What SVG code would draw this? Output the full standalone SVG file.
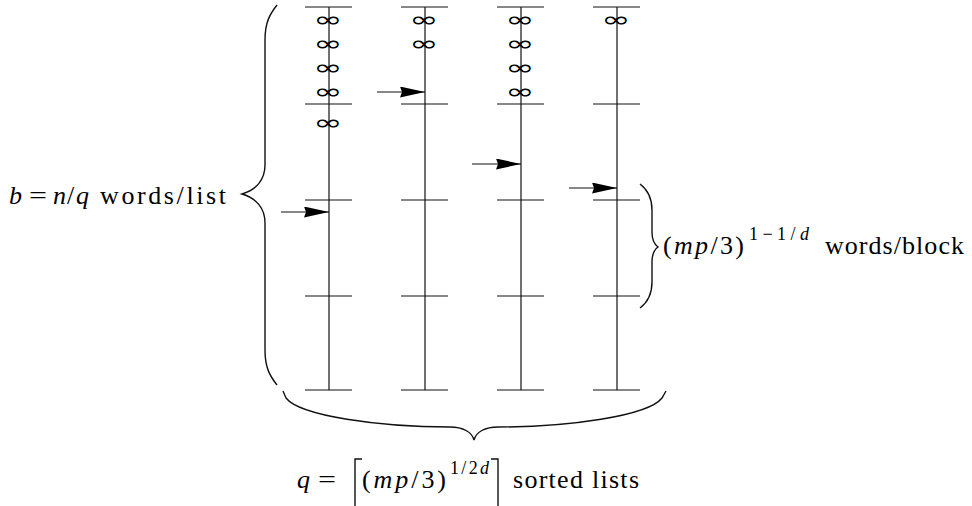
<svg xmlns="http://www.w3.org/2000/svg" width="972" height="506" viewBox="0 0 972 506">
<style>
.ln{stroke:#111;stroke-width:1.2;fill:none}
.br{stroke:#111;stroke-width:1.4;fill:none}
.t{font-family:"Liberation Serif","Times New Roman",serif;font-size:26px;fill:#000}
.i{font-style:italic}
.s{font-size:18px}
.inf{font-family:"DejaVu Sans","Liberation Serif",sans-serif;font-size:20px;text-anchor:middle;fill:#000}
.ah{fill:#000}
</style>
<defs>
<marker id="arr" markerWidth="25" markerHeight="11" refX="25" refY="5.5" orient="auto" markerUnits="userSpaceOnUse">
<path d="M0,0 L25,5.5 L0,11 L2,5.5 Z" class="ah"/>
</marker>
</defs>
<g id="list1">
<line class="ln" x1="329" y1="7" x2="329" y2="390"/>
<line class="ln" x1="305" y1="7" x2="352" y2="7"/>
<line class="ln" x1="305" y1="104" x2="352" y2="104"/>
<line class="ln" x1="305" y1="200" x2="352" y2="200"/>
<line class="ln" x1="305" y1="296" x2="352" y2="296"/>
<line class="ln" x1="305" y1="390" x2="352" y2="390"/>
<text class="inf" transform="translate(328,27) scale(1.75,1.1)">∞</text>
<text class="inf" transform="translate(328,51) scale(1.75,1.1)">∞</text>
<text class="inf" transform="translate(328,75) scale(1.75,1.1)">∞</text>
<text class="inf" transform="translate(328,99) scale(1.75,1.1)">∞</text>
<text class="inf" transform="translate(328,130) scale(1.75,1.1)">∞</text>
</g>
<g id="list2">
<line class="ln" x1="425" y1="7" x2="425" y2="390"/>
<line class="ln" x1="401" y1="7" x2="448" y2="7"/>
<line class="ln" x1="401" y1="104" x2="448" y2="104"/>
<line class="ln" x1="401" y1="200" x2="448" y2="200"/>
<line class="ln" x1="401" y1="296" x2="448" y2="296"/>
<line class="ln" x1="401" y1="390" x2="448" y2="390"/>
<text class="inf" transform="translate(424,27) scale(1.75,1.1)">∞</text>
<text class="inf" transform="translate(424,51) scale(1.75,1.1)">∞</text>
</g>
<g id="list3">
<line class="ln" x1="521" y1="7" x2="521" y2="390"/>
<line class="ln" x1="497" y1="7" x2="544" y2="7"/>
<line class="ln" x1="497" y1="104" x2="544" y2="104"/>
<line class="ln" x1="497" y1="200" x2="544" y2="200"/>
<line class="ln" x1="497" y1="296" x2="544" y2="296"/>
<line class="ln" x1="497" y1="390" x2="544" y2="390"/>
<text class="inf" transform="translate(520,27) scale(1.75,1.1)">∞</text>
<text class="inf" transform="translate(520,51) scale(1.75,1.1)">∞</text>
<text class="inf" transform="translate(520,75) scale(1.75,1.1)">∞</text>
<text class="inf" transform="translate(520,99) scale(1.75,1.1)">∞</text>
</g>
<g id="list4">
<line class="ln" x1="617" y1="7" x2="617" y2="390"/>
<line class="ln" x1="593" y1="7" x2="640" y2="7"/>
<line class="ln" x1="593" y1="104" x2="640" y2="104"/>
<line class="ln" x1="593" y1="200" x2="640" y2="200"/>
<line class="ln" x1="593" y1="296" x2="640" y2="296"/>
<line class="ln" x1="593" y1="390" x2="640" y2="390"/>
<text class="inf" transform="translate(616,27) scale(1.75,1.1)">∞</text>
</g>
<g id="connectors">
<line class="ln" x1="281" y1="212" x2="329" y2="212" marker-end="url(#arr)"/>
<line class="ln" x1="377" y1="92" x2="425" y2="92" marker-end="url(#arr)"/>
<line class="ln" x1="472" y1="164" x2="521" y2="164" marker-end="url(#arr)"/>
<line class="ln" x1="569" y1="188" x2="617" y2="188" marker-end="url(#arr)"/>
</g>
<g id="brace-left">
<path class="br" d="M277,5 C270,14 265,22 265,40 L265,165 C265,180 256,190 242,194 C256,198 265,208 265,223 L265,350 C265,368 270,376 277,385"/>
<text class="t i" x="9" y="204">b</text>
<text class="t" x="29" y="204" textLength="18" lengthAdjust="spacingAndGlyphs">=</text>
<text class="t" y="204"><tspan class="i" x="53">n</tspan><tspan x="67">/</tspan><tspan class="i" x="76">q</tspan></text>
<text class="t" x="100" y="204" textLength="126" lengthAdjust="spacing">words/list</text>
</g>
<g id="brace-right">
<path class="br" d="M640,184 C648,190 652,198 652,210 L652,232 C652,240 654,244 658,247 C654,250 652,254 652,262 L652,282 C652,294 648,302 640,308"/>
<text class="t" x="663" y="254" textLength="81" lengthAdjust="spacing">(<tspan class="i">mp</tspan>/3)</text>
<text class="t s" x="749" y="240" textLength="60" lengthAdjust="spacing">1−1/<tspan class="i">d</tspan></text>
<text class="t" x="825" y="254" textLength="139" lengthAdjust="spacing">words/block</text>
</g>
<g id="brace-bottom">
<path class="br" d="M283,391 L286,398 C300,416 380,427 450,427 C463,427 472,432 474,440 C476,432 485,427 498,427 C568,427 648,416 662,398 L666,391"/>
<text class="t i" x="297" y="488">q</text>
<text class="t" x="318" y="488" textLength="18" lengthAdjust="spacingAndGlyphs">=</text>
<path class="br" d="M362,459 L355,459 L355,506"/>
<text class="t" x="362" y="488" textLength="84" lengthAdjust="spacing">(<tspan class="i">mp</tspan>/3)</text>
<text class="t s" x="450" y="474" textLength="39" lengthAdjust="spacing">1/2<tspan class="i">d</tspan></text>
<path class="br" d="M491,459 L498,459 L498,506"/>
<text class="t" x="513" y="488" textLength="126" lengthAdjust="spacing">sorted lists</text>
</g>
</svg>
